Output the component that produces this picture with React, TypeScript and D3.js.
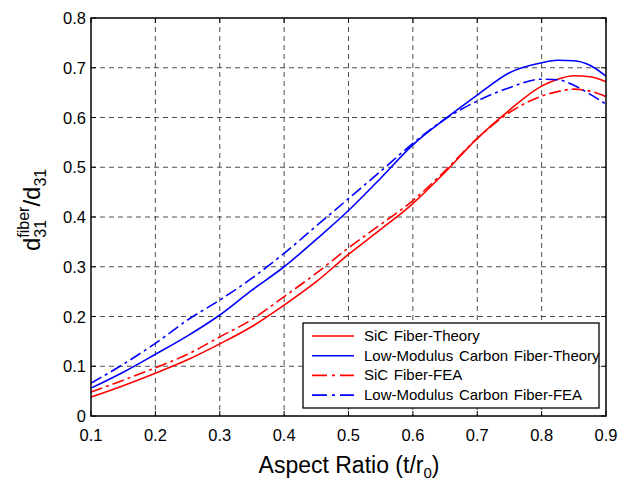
import * as d3 from "d3";

const W = 621;
const H = 480;
const M = { left: 91, top: 18, right: 606, bottom: 416 };

// aspect ratio samples (t/r0)
const ratio = [0.1, 0.15, 0.2, 0.25, 0.3, 0.35, 0.4, 0.45, 0.5, 0.55, 0.6, 0.65, 0.7, 0.75, 0.8, 0.825, 0.85, 0.875, 0.9];

const sicTheory = [0.038, 0.061, 0.086, 0.113, 0.145, 0.18, 0.223, 0.27, 0.325, 0.375, 0.427, 0.49, 0.558, 0.615, 0.663, 0.677, 0.684, 0.682, 0.672];
const carbonTheory = [0.056, 0.088, 0.124, 0.161, 0.203, 0.253, 0.3, 0.355, 0.413, 0.478, 0.545, 0.597, 0.645, 0.69, 0.71, 0.715, 0.714, 0.705, 0.683];
const sicFEA = [0.048, 0.072, 0.097, 0.124, 0.159, 0.194, 0.24, 0.287, 0.338, 0.385, 0.433, 0.493, 0.558, 0.61, 0.643, 0.652, 0.657, 0.653, 0.642];
const carbonFEA = [0.066, 0.104, 0.146, 0.193, 0.233, 0.277, 0.327, 0.382, 0.437, 0.492, 0.548, 0.597, 0.633, 0.66, 0.677, 0.676, 0.665, 0.647, 0.627];

const xTicks = [0.1, 0.2, 0.3, 0.4, 0.5, 0.6, 0.7, 0.8, 0.9];
const yTicks = [0, 0.1, 0.2, 0.3, 0.4, 0.5, 0.6, 0.7, 0.8];

const seriesNames = [
  "SiC Fiber-Theory",
  "Low-Modulus Carbon Fiber-Theory",
  "SiC Fiber-FEA",
  "Low-Modulus Carbon Fiber-FEA",
];

const FONT = "'Liberation Sans', Arial, sans-serif";
const DASHDOT = "12,4,3,4";

export default function App() {
  const x = d3.scaleLinear().domain([0.1, 0.9]).range([M.left, M.right]);
  const y = d3.scaleLinear().domain([0, 0.8]).range([M.bottom, M.top]);

  const series = [
    { name: seriesNames[0], values: sicTheory, color: "#ff0000", dash: "none" },
    { name: seriesNames[1], values: carbonTheory, color: "#0000ff", dash: "none" },
    { name: seriesNames[2], values: sicFEA, color: "#ff0000", dash: DASHDOT },
    { name: seriesNames[3], values: carbonFEA, color: "#0000ff", dash: DASHDOT },
  ];

  const line = d3
    .line<number>()
    .x((_, i) => x(ratio[i]))
    .y((d) => y(d))
    .curve(d3.curveMonotoneX);

  const legX = 303;
  const legY = 323;
  const legW = 296;
  const legH = 85;

  return (
    <div style={{ position: "absolute", left: 0, top: 0 }}>
      <svg width={W} height={H} style={{ display: "block", background: "#fff" }} fontFamily={FONT}>
        {/* grid */}
        {xTicks.slice(1, -1).map((t) => (
          <line key={"gx" + t} x1={x(t)} x2={x(t)} y1={M.top} y2={M.bottom} stroke="#222" strokeWidth={0.8} strokeDasharray="5,4" />
        ))}
        {yTicks.slice(1, -1).map((t) => (
          <line key={"gy" + t} x1={M.left} x2={M.right} y1={y(t)} y2={y(t)} stroke="#222" strokeWidth={0.8} strokeDasharray="5,4" />
        ))}

        {/* curves */}
        {series.map((s) => (
          <path key={s.name} d={line(s.values) ?? ""} fill="none" stroke={s.color} strokeWidth={1.6} strokeDasharray={s.dash} />
        ))}

        {/* ticks */}
        {xTicks.map((t) => (
          <g key={"tx" + t}>
            <line x1={x(t)} x2={x(t)} y1={M.bottom} y2={M.bottom - 5} stroke="#000" />
            <line x1={x(t)} x2={x(t)} y1={M.top} y2={M.top + 5} stroke="#000" />
            <text x={x(t)} y={441} textAnchor="middle" fontSize={16.5}>
              {t === 0 ? "0" : d3.format(".1f")(t)}
            </text>
          </g>
        ))}
        {yTicks.map((t) => (
          <g key={"ty" + t}>
            <line x1={M.left} x2={M.left + 5} y1={y(t)} y2={y(t)} stroke="#000" />
            <line x1={M.right} x2={M.right - 5} y1={y(t)} y2={y(t)} stroke="#000" />
            <text x={86} y={y(t) + 6} textAnchor="end" fontSize={16.5}>
              {t === 0 ? "0" : d3.format(".1f")(t)}
            </text>
          </g>
        ))}

        {/* frame */}
        <rect x={M.left} y={M.top} width={M.right - M.left} height={M.bottom - M.top} fill="none" stroke="#000" strokeWidth={1.5} />

        {/* legend */}
        <rect x={legX} y={legY} width={legW} height={legH} fill="#fff" stroke="#000" strokeWidth={1.3} />
        {series.map((s, i) => {
          const cy = legY + 13 + i * 19.7;
          return (
            <g key={"leg" + i}>
              <line x1={312} x2={354} y1={cy} y2={cy} stroke={s.color} strokeWidth={1.6} strokeDasharray={s.dash === "none" ? "none" : "15,5,3,5"} />
              <text x={364} y={cy + 5} fontSize={15} wordSpacing={1.5}>
                {s.name}
              </text>
            </g>
          );
        })}

        {/* x label */}
        <text x={(M.left + M.right) / 2 + 0.5} y={473} textAnchor="middle" fontSize={23}>
          Aspect Ratio (t/r<tspan fontSize={15} dy={5}>0</tspan>
          <tspan dy={-5}>)</tspan>
        </text>

        {/* y label */}
        <g transform="translate(40,210) rotate(-90)" fontSize={24}>
          <text x={-41} y={0}>d</text>
          <text x={-27.7} y={6} fontSize={16}>31</text>
          <text x={-27.7} y={-11} fontSize={16}>fiber</text>
          <text x={3.4} y={0}>/d</text>
          <text x={23.4} y={6} fontSize={16}>31</text>
        </g>
      </svg>
    </div>
  );
}
